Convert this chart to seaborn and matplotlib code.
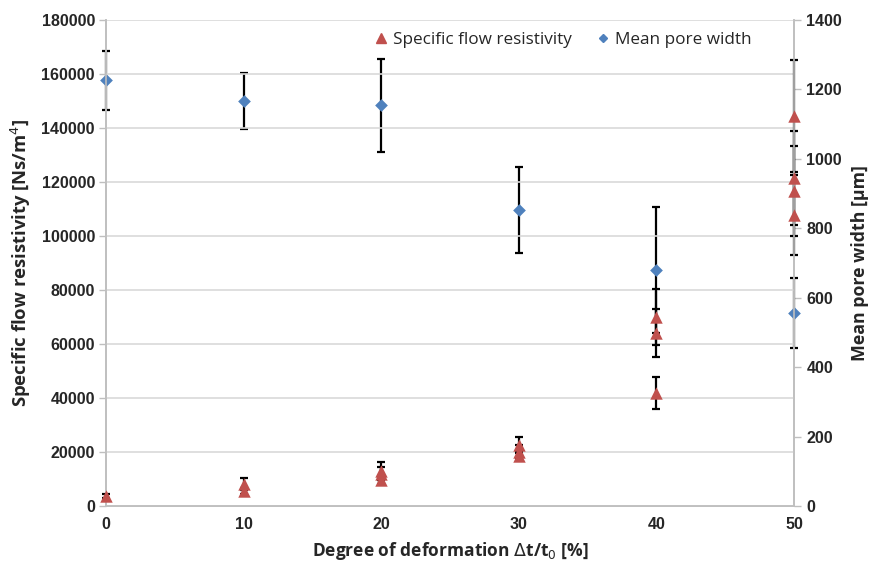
import matplotlib
matplotlib.use("Agg")
import matplotlib.pyplot as plt
import seaborn as sns
import pandas as pd
from matplotlib.lines import Line2D

# ---- data ----
res_x = [0, 10, 10, 20, 20, 20, 30, 30, 30, 40, 40, 40, 50, 50, 50, 50]
res_val = [3700, 8000, 5500, 13000, 12000, 9500, 22500, 20000, 18500,
           70000, 64000, 41800, 144400, 121500, 116700, 107800]
res_err = [800, 2200, 1200, 3200, 2500, 1500, 3000, 2500, 1500,
           10400, 8900, 5900, 20700, 17400, 16700, 14800]

pore_x = [0, 10, 20, 30, 40, 50]
pore_val = [1226, 1167, 1155, 853, 680, 556]
pore_err = [86, 80, 134, 124, 181, 102]

x_ticks = [0, 10, 20, 30, 40, 50]
left_ticks = list(range(0, 180001, 20000))
right_ticks = list(range(0, 1401, 200))

res_df = pd.DataFrame({"x": res_x, "val": res_val, "err": res_err})
pore_df = pd.DataFrame({"x": pore_x, "val": pore_val, "err": pore_err})

RED = "#C0504D"
BLUE = "#4F81BD"
GRID = "#D9D9D9"
AXC = "#BFBFBF"

sns.set_theme(style="white")
plt.rcParams["font.family"] = ["Liberation Sans Narrow", "Liberation Sans", "DejaVu Sans"]

fig = plt.figure(figsize=(8.75, 5.72), dpi=100)
ax1 = fig.add_axes([106 / 875, 1 - 506 / 572, (794 - 106) / 875, (506 - 20) / 572])
ax2 = ax1.twinx()
ax1.set_zorder(ax2.get_zorder() + 1)
ax1.patch.set_visible(False)


def unclip(container):
    for child in container.get_children():
        child.set_clip_on(False)


# secondary series: mean pore width
eb2 = ax2.errorbar(pore_df["x"], pore_df["val"], yerr=pore_df["err"], fmt="none",
                   ecolor="black", elinewidth=1.6, capsize=2.6, capthick=1.6, zorder=2)
unclip(eb2)
sns.scatterplot(data=pore_df, x="x", y="val", ax=ax2, marker="D", s=42,
                color=BLUE, edgecolor=BLUE, linewidth=0, zorder=3, legend=False,
                clip_on=False)

# primary series: specific flow resistivity
eb1 = ax1.errorbar(res_df["x"], res_df["val"], yerr=res_df["err"], fmt="none",
                   ecolor="black", elinewidth=1.6, capsize=2.6, capthick=1.6, zorder=2)
unclip(eb1)
sns.scatterplot(data=res_df, x="x", y="val", ax=ax1, marker="^", s=80,
                color=RED, edgecolor=RED, linewidth=0, zorder=3, legend=False,
                clip_on=False)

ax1.set_xlim(0, 50)
ax1.set_ylim(0, 180000)
ax2.set_ylim(0, 1400)
ax1.set_xticks(x_ticks)
ax1.set_yticks(left_ticks)
ax2.set_yticks(right_ticks)
ax1.set_xticklabels([str(v) for v in x_ticks])
ax1.set_yticklabels([str(v) for v in left_ticks])
ax2.set_yticklabels([str(v) for v in right_ticks])

ax1.grid(axis="y", color=GRID, linewidth=1.2)
ax1.grid(axis="x", visible=False)
ax2.grid(False)

for ax in (ax1, ax2):
    ax.spines["top"].set_visible(False)
    for side in ("left", "right", "bottom"):
        ax.spines[side].set_color(AXC)
        ax.spines[side].set_linewidth(1.2)

ax1.tick_params(axis="both", which="both", length=5, width=1, color=AXC,
                labelsize=11.5, pad=3)
ax2.tick_params(axis="y", length=5, width=1, color=AXC, labelsize=11.5, pad=4)
for lab in ax1.get_xticklabels() + ax1.get_yticklabels() + ax2.get_yticklabels():
    lab.set_fontweight("bold")

lab_font = ["Open Sans", "DejaVu Sans"]
ax1.set_xlabel("Degree of deformation $\\Delta$t/t$_0$ [%]", fontsize=12.5,
               fontweight="bold", family=lab_font, labelpad=6)
ax1.set_ylabel("Specific flow resistivity [Ns/m$^4$]", fontsize=13.3,
               fontweight="bold", family=lab_font, labelpad=6)
ax2.set_ylabel("Mean pore width [µm]", fontsize=12.8, fontweight="bold",
               family=lab_font, labelpad=6)

handles = [
    Line2D([], [], marker="^", color=RED, linestyle="none", markersize=7),
    Line2D([], [], marker="D", color=BLUE, linestyle="none", markersize=4.5),
]
ax1.legend(handles, ["Specific flow resistivity", "Mean pore width"],
           loc="upper left", bbox_to_anchor=((364 - 106) / 688, 0.99), ncol=2,
           frameon=False, borderaxespad=0,
           prop={"family": lab_font, "size": 12.3}, handletextpad=0.1,
           columnspacing=1.2, handlelength=1.2)

fig.savefig("out.png", dpi=100)
